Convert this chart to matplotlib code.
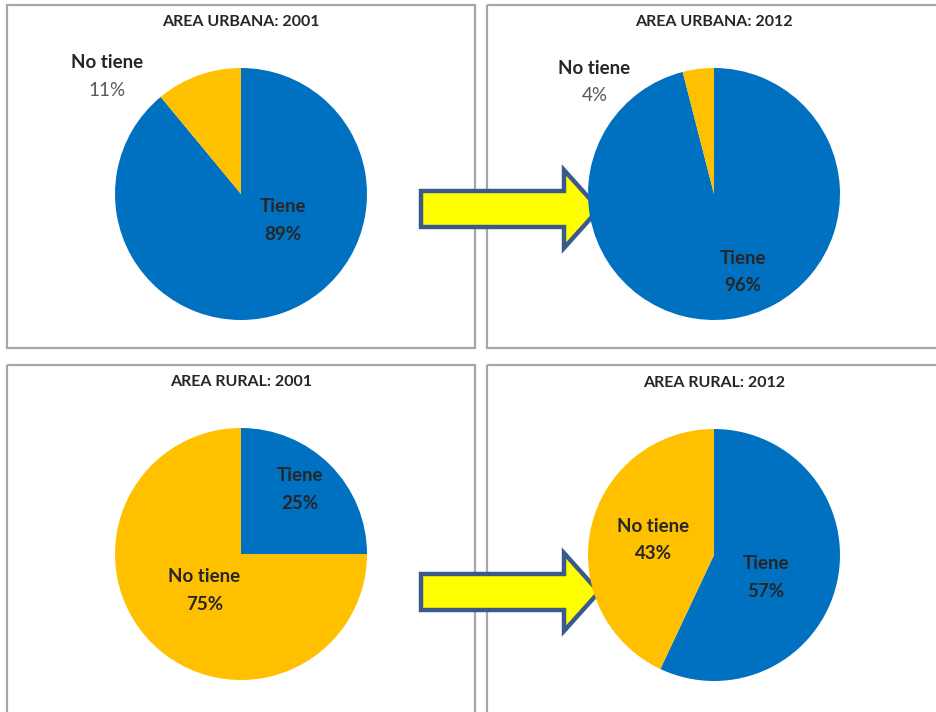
import numpy as np
import matplotlib
matplotlib.use("Agg")
import matplotlib.pyplot as plt
from matplotlib.patches import Rectangle, Polygon

plt.rcParams['font.family'] = ['Lato', 'DejaVu Sans']

# data
titles = ['AREA URBANA: 2001', 'AREA URBANA: 2012', 'AREA RURAL: 2001', 'AREA RURAL: 2012']
categories = ['Tiene', 'No tiene']
urbana_2001 = [89, 11]
urbana_2012 = [96, 4]
rural_2001 = [25, 75]
rural_2012 = [57, 43]
series = [urbana_2001, urbana_2012, rural_2001, rural_2012]

colors = ['#0070C0', '#FFC000']

W, H = 936, 712
fig = plt.figure(figsize=(W / 100, H / 100), dpi=100)

# background layer in pixel coords
bg = fig.add_axes([0, 0, 1, 1])
bg.set_xlim(0, W)
bg.set_ylim(H, 0)
bg.axis('off')

panels = [(7, 5, 475, 348), (487, 5, 940, 348), (7, 365, 475, 716), (487, 365, 940, 716)]
for (x0, y0, x1, y1) in panels:
    bg.add_patch(Rectangle((x0, y0), x1 - x0, y1 - y0, fill=False,
                           edgecolor='#A6A6A6', lw=1.6))

# pie centres / radius in pixels, label spots in pie units
centres = [(241, 194), (714, 194), (241, 554), (714, 555)]
R = 126
label_pos = [
    {'Tiene': (0.33, -0.21), 'No tiene': (-1.06, 0.93)},
    {'Tiene': (0.23, -0.62), 'No tiene': (-0.95, 0.89)},
    {'Tiene': (0.47, 0.51), 'No tiene': (-0.29, -0.29)},
    {'Tiene': (0.41, -0.18), 'No tiene': (-0.48, 0.12)},
]
outside = [{'No tiene'}, {'No tiene'}, set(), set()]

for i, vals in enumerate(series):
    cx, cy = centres[i]
    ax = fig.add_axes([(cx - R) / W, 1 - (cy + R) / H, 2 * R / W, 2 * R / H])
    ax.pie(vals, colors=colors, startangle=90, counterclock=False,
           radius=1, wedgeprops=dict(linewidth=0))
    ax.set_xlim(-1, 1)
    ax.set_ylim(-1, 1)
    ax.axis('off')
    for cat, v in zip(categories, vals):
        px, py = label_pos[i][cat]
        out = cat in outside[i]
        ax.text(px, py + 0.11, cat, ha='center', va='center', fontsize=13.5,
                fontweight='bold', color='#262626', clip_on=False)
        ax.text(px, py - 0.11, f'{v}%', ha='center', va='center', fontsize=13.5,
                fontweight='bold' if not out else 'normal',
                color='#595959' if out else '#262626', clip_on=False)
    bg.text(cx, cy - 172, titles[i], ha='center', va='center', fontsize=11.5,
            fontweight='bold', color='#262626')

# arrows between the years
def arrow(y):
    x0, xh, xt = 421, 564, 599
    bw, hw = 18, 39
    pts = [(x0, y - bw), (xh, y - bw), (xh, y - hw), (xt, y), (xh, y + hw),
           (xh, y + bw), (x0, y + bw)]
    bg.add_patch(Polygon(pts, closed=True, facecolor='#FFFF00',
                         edgecolor='#3B5A8C', lw=3.2, joinstyle='miter', zorder=5))

arrow(209)
arrow(592)

fig.savefig('out.png', dpi=100)
